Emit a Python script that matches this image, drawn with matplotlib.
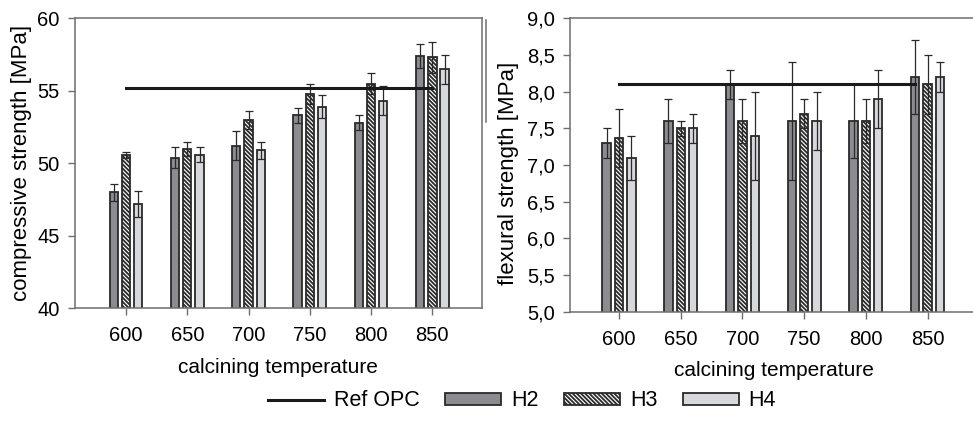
import matplotlib.pyplot as plt
from matplotlib.lines import Line2D
from matplotlib.patches import Patch
import numpy as np

plt.rcParams["font.family"] = ["Liberation Sans", "DejaVu Sans"]
plt.rcParams["hatch.linewidth"] = 1.3

temps = [600, 650, 700, 750, 800, 850]

# compressive strength [MPa]
comp_h2 = [48.0, 50.4, 51.2, 53.3, 52.8, 57.4]
comp_h2_err = [0.6, 0.7, 1.0, 0.5, 0.5, 0.8]
comp_h3 = [50.6, 51.0, 53.0, 54.8, 55.5, 57.3]
comp_h3_err = [0.2, 0.5, 0.6, 0.7, 0.7, 1.1]
comp_h4 = [47.2, 50.6, 50.9, 53.9, 54.3, 56.5]
comp_h4_err = [0.9, 0.5, 0.6, 0.8, 1.0, 1.0]
comp_ref = 55.2

# flexural strength [MPa]
flex_h2 = [7.3, 7.6, 8.1, 7.6, 7.6, 8.2]
flex_h2_err = [0.2, 0.3, 0.2, 0.8, 0.5, 0.5]
flex_h3 = [7.37, 7.5, 7.6, 7.7, 7.6, 8.1]
flex_h3_err = [0.4, 0.1, 0.3, 0.2, 0.3, 0.4]
flex_h4 = [7.1, 7.5, 7.4, 7.6, 7.9, 8.2]
flex_h4_err = [0.3, 0.2, 0.6, 0.4, 0.4, 0.2]
flex_ref = 8.1

comp_ticks = [40, 45, 50, 55, 60]
flex_ticks = [5.0, 5.5, 6.0, 6.5, 7.0, 7.5, 8.0, 8.5, 9.0]
flex_ticklabels = ["5,0", "5,5", "6,0", "6,5", "7,0", "7,5", "8,0", "8,5", "9,0"]

c_h2 = "#8c8c90"
c_h4 = "#d7d8dc"
edge = "#2a2a2a"
spine = "#6e6e6e"
hatch = "\\" * 8
offset = 10
width = 6.8


def draw_panel(ax, h2, h2e, h3, h3e, h4, h4e, ref, ref_end):
    x = np.array(temps, dtype=float)
    kw = dict(width=width, edgecolor=edge, linewidth=1.3, zorder=2)
    ax.bar(x - offset, h2, color=c_h2, **kw)
    ax.bar(x, h3, color="white", hatch=hatch, **kw)
    ax.bar(x + offset, h4, color=c_h4, **kw)
    ekw = dict(fmt="none", ecolor=edge, elinewidth=0.9, capsize=3.2, capthick=0.9, zorder=3)
    ax.errorbar(x - offset, h2, yerr=h2e, **ekw)
    ax.errorbar(x, h3, yerr=h3e, **ekw)
    ax.errorbar(x + offset, h4, yerr=h4e, **ekw)
    ax.plot([temps[0], ref_end], [ref, ref], color="#1a1a1a", lw=2.2, zorder=4)
    ax.set_xticks(temps)
    ax.set_xticklabels([str(t) for t in temps])
    ax.tick_params(axis="both", direction="out", length=5, width=1, color=spine,
                   labelsize=14.5, pad=6)
    ax.tick_params(axis="x", pad=8)
    for s in ax.spines.values():
        s.set_color(spine)
        s.set_linewidth(1.1)
    ax.set_xlabel("calcining temperature", fontsize=15, labelpad=9)


fig = plt.figure(figsize=(9.73, 4.21), dpi=100)
ax1 = fig.add_axes([0.0771, 0.2677, 0.418, 0.6888])
ax2 = fig.add_axes([0.5858, 0.2596, 0.4183, 0.6969])

draw_panel(ax1, comp_h2, comp_h2_err, comp_h3, comp_h3_err, comp_h4, comp_h4_err,
           comp_ref, 850)
ax1.set_xlim(558.4, 890.3)
ax1.set_ylim(40, 60)
ax1.set_yticks(comp_ticks)
ax1.set_ylabel("compressive strength [MPa]", fontsize=16)
ax1.yaxis.set_label_coords(-0.105, 0.5)

draw_panel(ax2, flex_h2, flex_h2_err, flex_h3, flex_h3_err, flex_h4, flex_h4_err,
           flex_ref, 840)
ax2.set_xlim(560.3, 890)
ax2.set_ylim(5, 9)
ax2.set_yticks(flex_ticks)
ax2.set_yticklabels(flex_ticklabels)
ax2.set_ylabel("flexural strength [MPa]", fontsize=16)
ax2.yaxis.set_label_coords(-0.125, 0.47)

# short vertical rule between the panels
fig.add_artist(Line2D([485.7 / 973] * 2, [1 - 20 / 421, 1 - 122 / 421],
                      color=spine, lw=1.1))

handles = [
    Line2D([], [], color="#1a1a1a", lw=2.2),
    Patch(facecolor=c_h2, edgecolor=edge, linewidth=1.3),
    Patch(facecolor="white", edgecolor=edge, linewidth=1.3, hatch=hatch),
    Patch(facecolor=c_h4, edgecolor=edge, linewidth=1.3),
]
fig.legend(handles, ["Ref OPC", "H2", "H3", "H4"], loc="center",
           bbox_to_anchor=(522 / 973, 20 / 421), ncol=4, frameon=False,
           fontsize=15.5, handlelength=2.6, handleheight=0.45, handletextpad=0.45,
           columnspacing=1.2)

fig.savefig("out.png", dpi=100)
